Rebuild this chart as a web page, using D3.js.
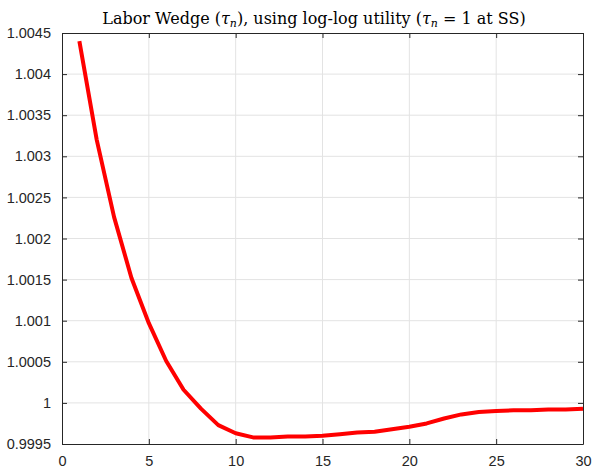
<!DOCTYPE html>
<html>
<head>
<meta charset="utf-8">
<script src="https://cdn.jsdelivr.net/npm/d3@7"></script>
<style>
  body { margin: 0; background: #fff; }
  .tick text { font-family: "Liberation Sans", Arial, sans-serif; font-size: 14.5px; fill: #262626; }
</style>
</head>
<body>
<div id="chart"></div>
<script>
// Data
var periods = d3.range(1, 31);
var wedge = [1.00440, 1.00320, 1.00226, 1.00152, 1.00097, 1.00051, 1.00016, 0.99993, 0.99973, 0.99963,
             0.99958, 0.99958, 0.99959, 0.99959, 0.99960, 0.99962, 0.99964, 0.99965, 0.99968, 0.99971,
             0.99975, 0.99981, 0.99986, 0.99989, 0.99990, 0.99991, 0.99991, 0.99992, 0.99992, 0.99993];
var xTicks = [0, 5, 10, 15, 20, 25, 30];
var yTicks = [0.9995, 1, 1.0005, 1.001, 1.0015, 1.002, 1.0025, 1.003, 1.0035, 1.004, 1.0045];

// svg container
var svgWidth = 592;
var svgHeight = 469;
var margin = { top: 33, right: 9, bottom: 25, left: 62 };
var chartWidth = svgWidth - margin.left - margin.right;
var chartHeight = svgHeight - margin.top - margin.bottom;

var svg = d3.select("#chart").append("svg")
  .attr("width", svgWidth)
  .attr("height", svgHeight);

var chartGroup = svg.append("g")
  .attr("transform", "translate(" + margin.left + "," + margin.top + ")");

var xScale = d3.scaleLinear().domain([0, 30]).range([0, chartWidth]);
var yScale = d3.scaleLinear().domain([0.9995, 1.0045]).range([chartHeight, 0]);

// grid
chartGroup.append("g").selectAll("line")
  .data(xTicks.slice(1, -1))
  .enter().append("line")
  .attr("x1", function(d) { return xScale(d); })
  .attr("x2", function(d) { return xScale(d); })
  .attr("y1", 0).attr("y2", chartHeight)
  .attr("stroke", "#e3e3e3").attr("stroke-width", 1);

chartGroup.append("g").selectAll("line")
  .data(yTicks.slice(1, -1))
  .enter().append("line")
  .attr("y1", function(d) { return yScale(d); })
  .attr("y2", function(d) { return yScale(d); })
  .attr("x1", 0).attr("x2", chartWidth)
  .attr("stroke", "#e3e3e3").attr("stroke-width", 1);

// axes (ticks pointing inside, box on all sides)
var fmt = function(d) { return String(+d.toFixed(4)); };

chartGroup.append("g")
  .attr("transform", "translate(0," + chartHeight + ")")
  .call(d3.axisBottom(xScale).tickValues(xTicks).tickSizeInner(-5).tickSizeOuter(0).tickPadding(12).tickFormat(fmt));

chartGroup.append("g")
  .call(d3.axisLeft(yScale).tickValues(yTicks).tickSizeInner(-5).tickSizeOuter(0).tickPadding(11).tickFormat(fmt));

chartGroup.append("g")
  .call(d3.axisTop(xScale).tickValues(xTicks).tickSizeInner(-5).tickSizeOuter(0).tickFormat(""));

chartGroup.append("g")
  .attr("transform", "translate(" + chartWidth + ",0)")
  .call(d3.axisRight(yScale).tickValues(yTicks).tickSizeInner(-5).tickSizeOuter(0).tickFormat(""));

chartGroup.selectAll(".domain, .tick line").attr("stroke", "#262626");

// line
var line = d3.line()
  .x(function(d, i) { return xScale(periods[i]); })
  .y(function(d) { return yScale(d); });

chartGroup.append("path")
  .datum(wedge)
  .attr("d", line)
  .attr("fill", "none")
  .attr("stroke", "#ff0000")
  .attr("stroke-width", 4)
  .attr("stroke-linejoin", "round");

// title
var title = svg.append("text")
  .attr("x", 314)
  .attr("y", 24)
  .attr("text-anchor", "middle")
  .style("font-family", "'DejaVu Serif', 'Liberation Serif', serif")
  .style("font-size", "16px")
  .style("fill", "#000");

title.append("tspan").text("Labor Wedge (");
title.append("tspan").style("font-style", "italic").text("\u03C4");
title.append("tspan").style("font-style", "italic").style("font-size", "11px").attr("dy", 3).text("n");
title.append("tspan").attr("dy", -3).text("), using log-log utility (");
title.append("tspan").style("font-style", "italic").text("\u03C4");
title.append("tspan").style("font-style", "italic").style("font-size", "11px").attr("dy", 3).text("n");
title.append("tspan").attr("dy", -3).text(" = 1 at SS)");
</script>
</body>
</html>
